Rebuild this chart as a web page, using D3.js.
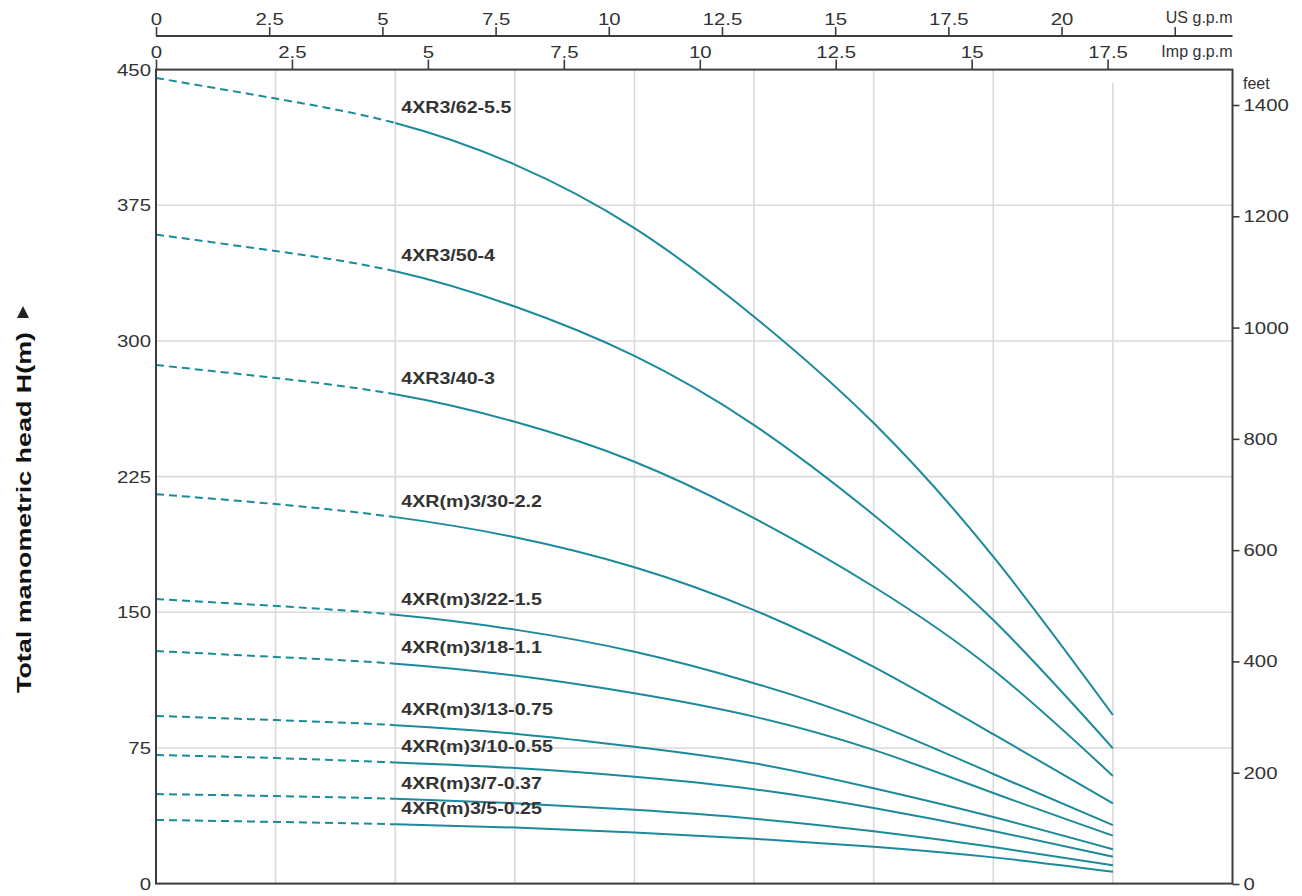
<!DOCTYPE html>
<html><head><meta charset="utf-8">
<script src="https://cdn.jsdelivr.net/npm/d3@7"></script>
<style>
body{margin:0;background:#fff}
svg{display:block}
text{font-family:"Liberation Sans",Arial,sans-serif}
</style></head>
<body><svg id="chart" width="1302" height="896"></svg>
<script>
// ---- data ----
const flowLpm = [0, 10, 20, 30, 40, 50, 60, 70, 80];          // l/min
const modelNames = ["4XR3/62-5.5","4XR3/50-4","4XR3/40-3","4XR(m)3/30-2.2","4XR(m)3/22-1.5",
                    "4XR(m)3/18-1.1","4XR(m)3/13-0.75","4XR(m)3/10-0.55","4XR(m)3/7-0.37","4XR(m)3/5-0.25"];
const head62 = [445.4, 434.0, 420.5, 397.5, 362.4, 313.4, 254.6, 180.7, 93.2];
const head50 = [358.8, 349.7, 338.5, 319.0, 291.7, 253.5, 203.8, 145.7, 74.8];
const head40 = [286.7, 279.5, 270.5, 255.3, 233.2, 202.0, 164.1, 118.1, 59.5];
const head30 = [215.3, 209.8, 202.6, 191.5, 174.9, 151.2, 119.8, 82.6, 44.4];
const head22 = [157.3, 153.5, 148.6, 140.4, 128.2, 110.8, 88.6, 60.6, 32.3];
const head18 = [128.6, 125.3, 121.6, 115.0, 105.2, 92.3, 73.9, 50.1, 26.5];
const head13 = [92.7, 90.4, 87.6, 82.9, 75.7, 66.5, 52.7, 36.8, 19.0];
const head10 = [71.1, 69.4, 67.0, 63.9, 59.1, 52.2, 41.8, 29.1, 14.9];
const head7  = [49.5, 48.4, 46.9, 44.4, 40.8, 35.9, 28.9, 20.2, 10.1];
const head5  = [35.2, 34.1, 32.8, 31.0, 28.3, 24.8, 20.4, 14.5, 6.6];
const usGpmTicks  = [0, 2.5, 5, 7.5, 10, 12.5, 15, 17.5, 20, 22.5];
const usGpmLabels = ["0","2.5","5","7.5","10","12.5","15","17.5","20",""];
const impGpmTicks = [0, 2.5, 5, 7.5, 10, 12.5, 15, 17.5];
const headTicks   = [0, 75, 150, 225, 300, 375, 450];
const feetTicks   = [0, 200, 400, 600, 800, 1000, 1200, 1400];
const gridFlows   = [10, 20, 30, 40, 50, 60, 70, 80];
const dashedEndFlow = 20;

const headSeries = [head62, head50, head40, head30, head22, head18, head13, head10, head7, head5];

// ---- layout ----
const L = 156, R = 1232.5, T = 69.6, B = 883.6;
const LPM_PER_USGPM = 3.785411784, LPM_PER_IMPGPM = 4.54609;
const svg = d3.select("#chart");
const x = d3.scaleLinear().domain([0, 90]).range([L, R]);
const xUS = d3.scaleLinear().domain([0, 90 / LPM_PER_USGPM]).range([L, R]);
const xImp = d3.scaleLinear().domain([0, 90 / LPM_PER_IMPGPM]).range([L, R]);
const y = d3.scaleLinear().domain([0, 450]).range([B, T]);
const yFt = d3.scaleLinear().domain([0, 1400]).range([884, 105]);

const teal = "#1b8a9a", gridC = "#dadada", frameC = "#3c3c3c", textC = "#333";
const numSX = 1.2;
const FONT = '"Liberation Sans",Arial,sans-serif';

function stretch(sel, sx) {
  sel.each(function () {
    const t = d3.select(this);
    const tx = +t.attr("x") || 0, ty = +t.attr("y") || 0;
    t.attr("transform", `translate(${tx},${ty}) scale(${sx},1) translate(${-tx},${-ty})`);
  });
}

// clip regions for dashed / solid parts
const defs = svg.append("defs");
defs.append("clipPath").attr("id", "clipDash").append("rect")
  .attr("x", L - 2).attr("y", 0).attr("width", x(dashedEndFlow) - L + 2).attr("height", 896);
defs.append("clipPath").attr("id", "clipSolid").append("rect")
  .attr("x", x(dashedEndFlow)).attr("y", 0).attr("width", R - x(dashedEndFlow)).attr("height", 896);

// gridlines
const grid = svg.append("g");
grid.selectAll("line.h").data(headTicks.filter(d => d > 0 && d < 450)).join("line")
  .attr("x1", L).attr("x2", R).attr("y1", d => y(d)).attr("y2", d => y(d))
  .attr("stroke", gridC).attr("stroke-width", 1.6);
grid.selectAll("line.v").data(gridFlows).join("line")
  .attr("x1", d => x(d)).attr("x2", d => x(d))
  .attr("y1", (d, i) => i === gridFlows.length - 1 ? T + 13 : T).attr("y2", B)
  .attr("stroke", gridC).attr("stroke-width", 1.6);

// curves
const lineGen = d3.line().x(d => x(d[0])).y(d => y(d[1])).curve(d3.curveNatural);
const curves = svg.append("g").attr("fill", "none").attr("stroke", teal).attr("stroke-width", 2);
headSeries.forEach((hs) => {
  const d = lineGen(flowLpm.map((f, j) => [f, hs[j]]));
  curves.append("path").attr("d", d).attr("clip-path", "url(#clipDash)")
    .attr("stroke-dasharray", "8,5");
  curves.append("path").attr("d", d).attr("clip-path", "url(#clipSolid)");
});

// frame
svg.append("rect").attr("x", L).attr("y", T).attr("width", R - L).attr("height", B - T)
  .attr("fill", "none").attr("stroke", frameC).attr("stroke-width", 2);

function styleText(g) {
  g.selectAll("text").attr("font-size", 17).attr("fill", textC).style("font-family", FONT);
  stretch(g.selectAll("text"), numSX);
}

// left axis
const ax = svg.append("g").attr("transform", `translate(${L},0)`)
  .call(d3.axisLeft(y).tickValues(headTicks).tickSize(0).tickPadding(5).tickFormat(d3.format("d")));
ax.select(".domain").remove();
styleText(ax);

// right axis (feet)
const ar = svg.append("g").attr("transform", `translate(${R},0)`)
  .call(d3.axisRight(yFt).tickValues(feetTicks).tickSize(7).tickPadding(4).tickFormat(d3.format("d")));
ar.select(".domain").remove();
ar.selectAll("line").attr("stroke", frameC).attr("stroke-width", 1.6);
styleText(ar);
svg.append("text").attr("x", 1243).attr("y", 89).text("feet")
  .attr("font-size", 16).attr("fill", textC);

// top Imp axis
const ai = svg.append("g").attr("transform", `translate(0,${T})`)
  .call(d3.axisTop(xImp).tickValues(impGpmTicks).tickSize(10).tickPadding(2).tickFormat(d3.format("")));
ai.select(".domain").remove();
ai.selectAll("line").attr("stroke", frameC).attr("stroke-width", 1.6);
styleText(ai);
svg.append("text").attr("x", R).attr("y", 57).attr("text-anchor", "end").text("Imp g.p.m")
  .attr("font-size", 16).attr("fill", textC);

// top US axis
const usY = 36;
svg.append("line").attr("x1", L).attr("x2", R).attr("y1", usY).attr("y2", usY)
  .attr("stroke", frameC).attr("stroke-width", 2);
const au = svg.append("g").attr("transform", `translate(0,${usY})`)
  .call(d3.axisTop(xUS).tickValues(usGpmTicks).tickSize(9).tickPadding(2)
    .tickFormat((d, i) => usGpmLabels[i]));
au.select(".domain").remove();
au.selectAll("line").attr("stroke", frameC).attr("stroke-width", 1.6);
styleText(au);
svg.append("text").attr("x", R).attr("y", 23).attr("text-anchor", "end").text("US g.p.m")
  .attr("font-size", 16).attr("fill", textC);

// curve labels
const lab = svg.append("g");
headSeries.forEach((hs, i) => {
  const t = lab.append("text").attr("x", x(dashedEndFlow) + 6)
    .attr("y", y(hs[flowLpm.indexOf(dashedEndFlow)]) - 16).attr("dy", "0.35em")
    .attr("font-size", 16.5).attr("font-weight", "bold").attr("fill", textC)
    .text(modelNames[i]);
  stretch(t, 1.19);
});

// y title
svg.append("text").attr("transform", "translate(31,693) rotate(-90)")
  .attr("font-size", 21).attr("font-weight", "bold").attr("fill", "#111")
  .attr("textLength", 361).attr("lengthAdjust", "spacingAndGlyphs")
  .text("Total manometric head H(m)");
svg.append("path").attr("d", "M23,306 L29,318 L17,318 Z").attr("fill", "#222");
</script>
</body></html>
